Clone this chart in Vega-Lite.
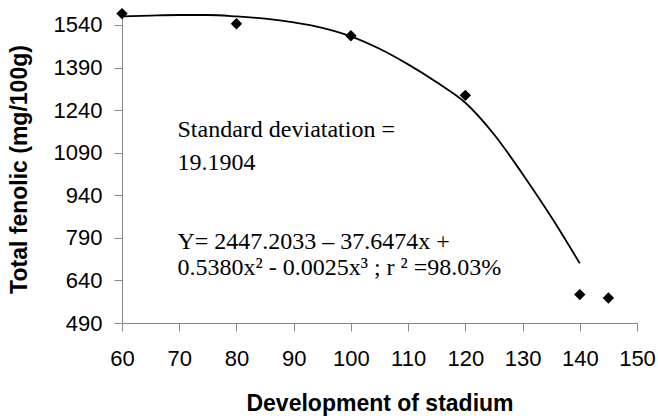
{
  "$schema": "https://vega.github.io/schema/vega-lite/v6.json",
  "width": 515,
  "height": 308,
  "autosize": {"type": "none"},
  "padding": {"left": 122, "top": 15, "right": 21, "bottom": 93},
  "background": "white",
  "config": {
    "view": {"stroke": null},
    "axis": {
      "grid": false,
      "domainColor": "#888888",
      "tickColor": "#888888",
      "tickSize": 8,
      "labelFont": "Liberation Sans",
      "labelFontSize": 22,
      "labelColor": "#000000",
      "labelFlush": false,
      "labelOverlap": false,
      "labelBound": false,
      "titleFont": "Liberation Sans",
      "titleFontSize": 23,
      "titleFontWeight": "bold",
      "titleColor": "#000000"
    }
  },
  "datasets": {
    "points": [
      {"stadium": 60, "fenolic": 1580},
      {"stadium": 80, "fenolic": 1544},
      {"stadium": 100, "fenolic": 1502},
      {"stadium": 120, "fenolic": 1292},
      {"stadium": 140, "fenolic": 590},
      {"stadium": 145, "fenolic": 578}
    ],
    "curve": [
      {"stadium": 60, "fenolic": 1570},
      {"stadium": 65, "fenolic": 1573},
      {"stadium": 70, "fenolic": 1575},
      {"stadium": 75, "fenolic": 1575},
      {"stadium": 80, "fenolic": 1570},
      {"stadium": 85, "fenolic": 1562},
      {"stadium": 90, "fenolic": 1549},
      {"stadium": 95, "fenolic": 1530},
      {"stadium": 100, "fenolic": 1500},
      {"stadium": 105, "fenolic": 1456},
      {"stadium": 110, "fenolic": 1401},
      {"stadium": 115, "fenolic": 1338},
      {"stadium": 120, "fenolic": 1266},
      {"stadium": 125, "fenolic": 1155},
      {"stadium": 130, "fenolic": 1015},
      {"stadium": 135, "fenolic": 864},
      {"stadium": 140, "fenolic": 700}
    ],
    "notes": [
      {"stadium": 69.7, "fenolic": 1170, "label": "Standard deviatation ="},
      {"stadium": 69.7, "fenolic": 1054, "label": "19.1904"},
      {"stadium": 69.7, "fenolic": 777, "label": "Y= 2447.2033 – 37.6474x +"},
      {"stadium": 69.7, "fenolic": 685, "label": "0.5380x² - 0.0025x³  ;  r ² =98.03%"}
    ]
  },
  "layer": [
    {
      "data": {"name": "curve"},
      "mark": {"type": "line", "color": "#000000", "strokeWidth": 1.8, "interpolate": "monotone"},
      "encoding": {
        "x": {
          "field": "stadium", "type": "quantitative",
          "scale": {"domain": [60, 150], "nice": false, "zero": false},
          "axis": {"values": [60, 70, 80, 90, 100, 110, 120, 130, 140, 150], "format": "d", "title": "Development of stadium", "labelPadding": 17, "titlePadding": 23}
        },
        "y": {
          "field": "fenolic", "type": "quantitative",
          "scale": {"domain": [490, 1575], "nice": false, "zero": false},
          "axis": {"values": [490, 640, 790, 940, 1090, 1240, 1390, 1540], "format": "d", "title": "Total fenolic (mg/100g)", "labelPadding": 12, "titlePadding": 22}
        }
      }
    },
    {
      "data": {"name": "points"},
      "mark": {"type": "point", "shape": "diamond", "filled": true, "color": "#000000", "opacity": 1, "size": 130},
      "encoding": {
        "x": {"field": "stadium", "type": "quantitative"},
        "y": {"field": "fenolic", "type": "quantitative"}
      }
    },
    {
      "data": {"name": "notes"},
      "mark": {"type": "text", "align": "left", "baseline": "middle", "font": "Liberation Serif", "fontSize": 24, "color": "#000000"},
      "encoding": {
        "x": {"field": "stadium", "type": "quantitative"},
        "y": {"field": "fenolic", "type": "quantitative"},
        "text": {"field": "label"}
      }
    }
  ]
}
